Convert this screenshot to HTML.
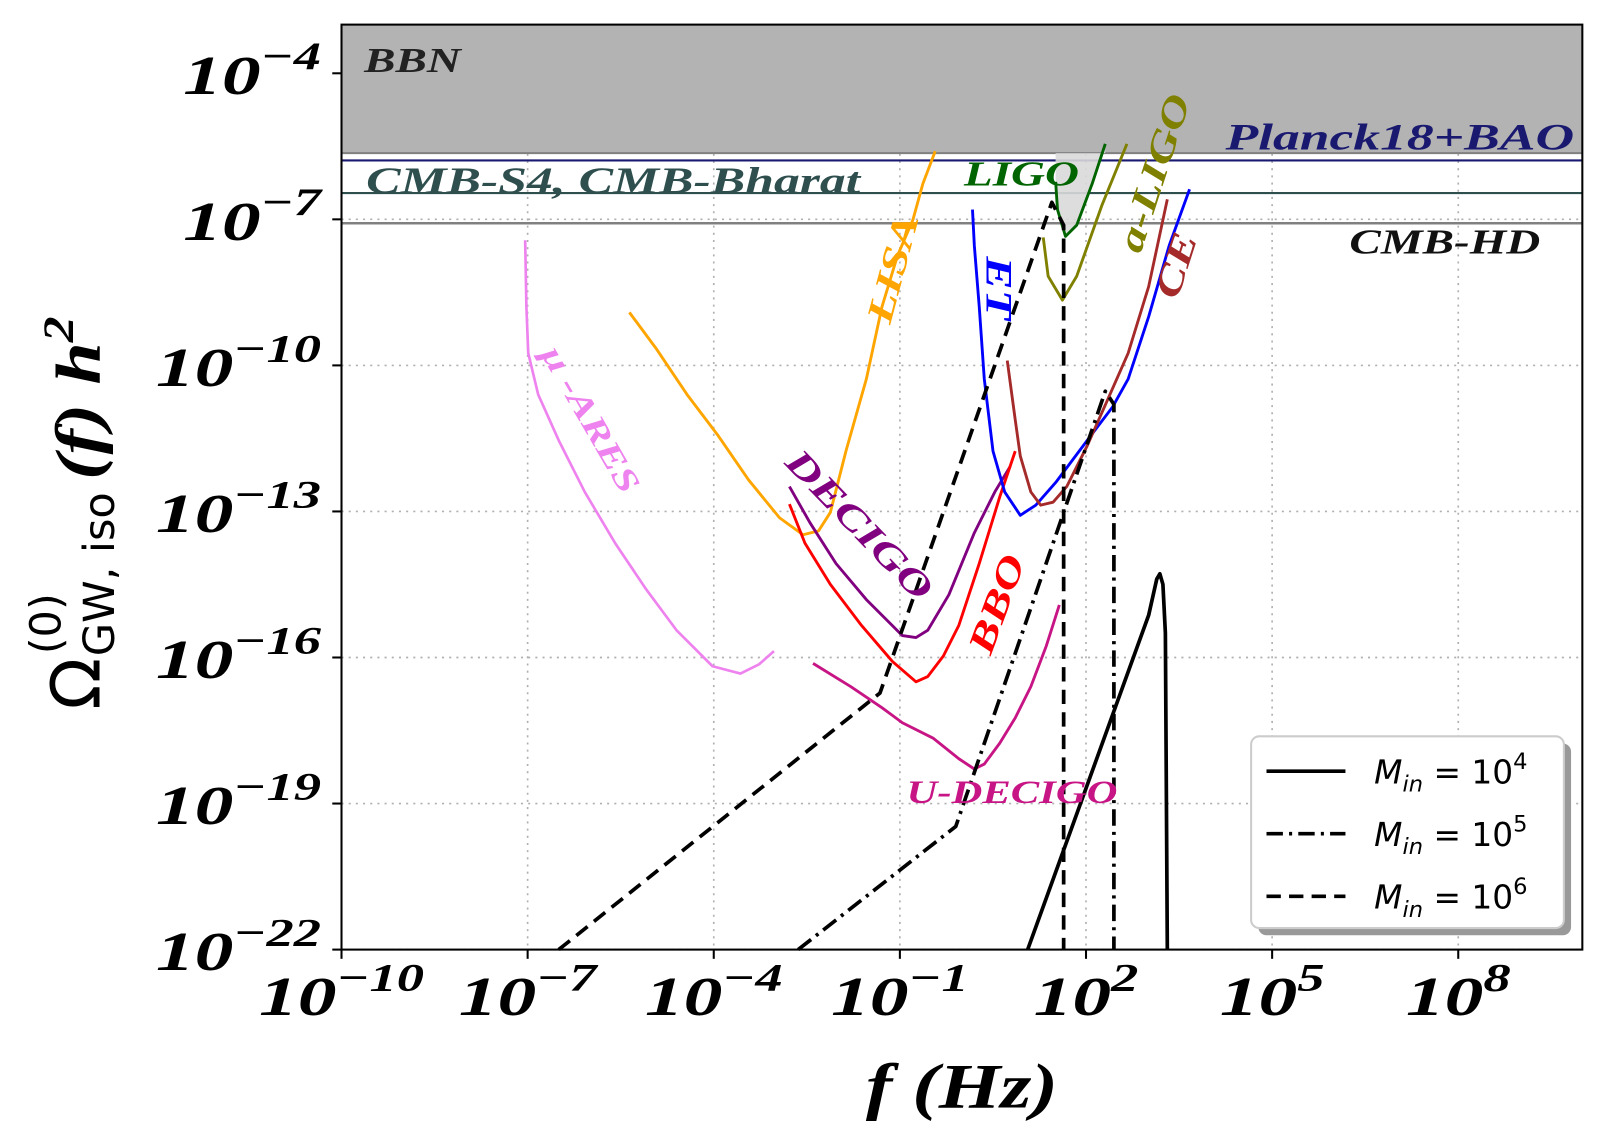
<!DOCTYPE html>
<html><head><meta charset="utf-8"><style>
html,body{margin:0;padding:0;background:#fff;}
svg{display:block;}
.tk{font-family:"Liberation Serif",serif;font-weight:bold;font-style:italic;fill:#000;}
.lab{font-family:"Liberation Serif",serif;font-weight:bold;font-style:italic;}
</style></head><body>
<svg id="chart" width="1608" height="1143" viewBox="0 0 1568 1114.6" xmlns="http://www.w3.org/2000/svg">
<g id="grid"></g>
<g id="bands"></g>
<g id="curves"></g>
<g id="labels"></g>
<g id="axes"></g>
<g id="legend"></g>
</svg>
<script>
// ---- data (log10 f, log10 Omega h^2) ----
const xTicks = [-10,-7,-4,-1,2,5,8];
const yTicks = [-22,-19,-16,-13,-10,-7,-4];
const bbnLevel = -5.64, planckLevel = -5.79, cmbS4Level = -6.46, cmbHDLevel = -7.08;
const ligoF = [1.51,1.54,1.67,1.85,2.10,2.31];
const ligoO = [-6.23,-6.80,-7.35,-7.12,-6.27,-5.45];
const aligoF = [1.31,1.39,1.62,1.85,2.26,2.66];
const aligoO = [-7.37,-8.17,-8.66,-8.17,-6.70,-5.45];
const etF = [0.17,0.20,0.28,0.36,0.50,0.69,0.94,1.19,1.52,2.02,2.43,2.68,3.01,3.34,3.67];
const etO = [-6.80,-7.54,-8.80,-10.28,-11.76,-12.60,-13.08,-12.87,-12.39,-11.54,-10.85,-10.28,-9.0,-7.54,-6.38];
const ceF = [0.73,0.86,0.94,1.11,1.27,1.47,1.69,2.02,2.35,2.68,3.01,3.31];
const ceO = [-9.90,-11.12,-11.86,-12.60,-12.87,-12.81,-12.49,-11.65,-10.70,-9.75,-8.38,-6.59];
const lisaF = [-5.36,-4.93,-4.43,-3.93,-3.44,-2.94,-2.56,-2.31,-2.12,-1.87,-1.54,-1.29,-1.04,-0.79,-0.63,-0.43];
const lisaO = [-8.91,-9.65,-10.60,-11.44,-12.35,-13.13,-13.48,-13.40,-13.02,-11.76,-10.28,-8.80,-7.75,-7.01,-6.27,-5.60];
const decigoF = [-2.78,-2.45,-2.03,-1.54,-0.96,-0.74,-0.55,-0.21,0.20,0.53,0.78];
const decigoO = [-12.49,-13.23,-14.07,-14.81,-15.55,-15.59,-15.44,-14.71,-13.44,-12.60,-12.07];
const bboF = [-2.78,-2.53,-2.12,-1.62,-1.12,-0.74,-0.55,-0.30,-0.05,0.28,0.61,0.86];
const bboO = [-12.85,-13.65,-14.50,-15.34,-16.08,-16.50,-16.39,-15.97,-15.34,-14.07,-12.70,-11.76];
const udecF = [-2.40,-1.79,-1.29,-0.96,-0.46,-0.05,0.20,0.36,0.61,0.86,1.11,1.36,1.57];
const udecO = [-16.12,-16.60,-17.03,-17.34,-17.66,-18.08,-18.29,-18.19,-17.76,-17.24,-16.60,-15.76,-14.92];
const muaresF = [-7.04,-7.02,-6.99,-6.83,-6.50,-6.08,-5.59,-5.09,-4.60,-4.02,-3.57,-3.27,-3.03];
const muaresO = [-7.43,-8.80,-9.75,-10.60,-11.54,-12.60,-13.65,-14.60,-15.44,-16.18,-16.33,-16.14,-15.87];
const m6F = [-6.50,-1.32,1.45,1.64,1.64];
const m6O = [-22,-16.73,-6.65,-7.12,-22];
const m5F = [-2.64,-0.10,2.31,2.45,2.45];
const m5O = [-22,-19.47,-10.53,-10.8,-22];
const m4F = [1.06,3.01,3.14,3.19,3.24,3.28,3.31];
const m4O = [-22,-15.13,-14.39,-14.28,-14.5,-15.5,-22];

// ---- axes ----
const L=333,R=1543,T=24,B=926;
const X = f => L + (f+10)*(R-L)/20;
const Y = o => B - (o+22)*(B-T)/19;
const NS="http://www.w3.org/2000/svg";
function mk(tag,attrs,parent){const e=document.createElementNS(NS,tag);for(const k in attrs)e.setAttribute(k,attrs[k]);parent.appendChild(e);return e;}
const G=id=>document.getElementById(id);

// grid
xTicks.forEach(t=>{const l=mk('line',{x1:X(t),x2:X(t),y1:T,y2:B,stroke:'#b0b0b0','stroke-width':1.6,'stroke-dasharray':'2,5'},G('grid'));

});
yTicks.forEach(t=>{const l=mk('line',{x1:L,x2:R,y1:Y(t),y2:Y(t),stroke:'#b0b0b0','stroke-width':1.6,'stroke-dasharray':'2,5'},G('grid'));

});

// bands
let r=mk('rect',{x:L,y:T,width:R-L,height:Y(bbnLevel)-T,fill:'#b3b3b3'},G('bands'));


let l=mk('line',{x1:L,x2:R,y1:Y(bbnLevel),y2:Y(bbnLevel),stroke:'#808080','stroke-width':2},G('bands'));


l=mk('line',{x1:L,x2:R,y1:Y(planckLevel),y2:Y(planckLevel),stroke:'#191970','stroke-width':2},G('bands'));


l=mk('line',{x1:L,x2:R,y1:Y(cmbS4Level),y2:Y(cmbS4Level),stroke:'#2f4f4f','stroke-width':2},G('bands'));


l=mk('line',{x1:L,x2:R,y1:Y(cmbHDLevel),y2:Y(cmbHDLevel),stroke:'#808080','stroke-width':2.5},G('bands'));


// LIGO shaded
let pts=ligoF.map((f,i)=>X(f)+','+Y(ligoO[i])).join(' ')+' '+X(ligoF[ligoF.length-1])+','+Y(bbnLevel)+' '+X(ligoF[0])+','+Y(bbnLevel);
let p=mk('polygon',{points:pts,fill:'#d9d9d9',opacity:0.9},G('bands'));



function curve(fs,os,color,w,dash,name){
  const d=fs.map((f,i)=>(i?'L':'M')+X(f).toFixed(1)+','+Y(os[i]).toFixed(1)).join('');
  const a={d:d,fill:'none',stroke:color,'stroke-width':w,'stroke-linejoin':'round'};
  if(dash)a['stroke-dasharray']=dash;
  const e=mk('path',a,G('curves'));
  
  
}
curve(muaresF,muaresO,'#ee82ee',2.6,null,'mu-ares-curve');
curve(lisaF,lisaO,'#ffa500',2.8,null,'lisa-curve');
curve(decigoF,decigoO,'#800080',2.8,null,'decigo-curve');
curve(bboF,bboO,'#ff0000',2.8,null,'bbo-curve');
curve(udecF,udecO,'#c71585',2.8,null,'u-decigo-curve');
curve(etF,etO,'#0000ff',2.8,null,'et-curve');
curve(ceF,ceO,'#a52a2a',2.8,null,'ce-curve');
curve(ligoF,ligoO,'#006400',2.8,null,'ligo-curve');
curve(aligoF,aligoO,'#808000',2.8,null,'a-ligo-curve');
curve(m6F,m6O,'#000',3.6,'14,8','gw-m1e6-curve');
curve(m5F,m5O,'#000',3.6,'16,6,3,6','gw-m1e5-curve');
curve(m4F,m4O,'#000',3.6,null,'gw-m1e4-curve');

// labels
function lab(txt,x,y,color,size,rot,name,anchor,sx){
  const t=mk('text',{x:0,y:0,fill:color,'font-size':size,class:'lab','text-anchor':anchor||'start',
    transform:'translate('+x+' '+y+') rotate('+(rot||0)+') scale('+(sx||1.35)+' 1)'},G('labels'));
  t.textContent=txt;
  
  
}
lab('BBN',355,70,'#222',34,0,'bbn-label');
lab('Planck18+BAO',1535,146,'#191970',36,0,'planck-label','end',1.45);
lab('CMB-S4, CMB-Bharat',357,188,'#2f4f4f',36,0,'cmb-s4-label',null,1.4);
lab('CMB-HD',1502,247,'#111',34,0,'cmb-hd-label','end');
lab('LIGO',940,181,'#006400',34,0,'ligo-label');
lab('a-LIGO',1112,248,'#808000',36,-72,'a-ligo-label');
lab('ET',962,250,'#0000ff',36,90,'et-label');
lab('CE',1148,293,'#a52a2a',36,-72,'ce-label');
lab('LISA',868,317,'#ffa500',36,-75,'lisa-label');
lab('μ -ARES',527,345,'#ee82ee',32,60,'mu-ares-label');
lab('DECIGO',764,452,'#800080',36,46,'decigo-label');
lab('BBO',966,640,'#ff0000',36,-70,'bbo-label');
lab('U-DECIGO',884,783,'#c71585',32,0,'u-decigo-label',null,1.3);

// axes
const ax=G('axes');
let fr=mk('rect',{x:L,y:T,width:R-L,height:B-T,fill:'none',stroke:'#000','stroke-width':2},ax);


xTicks.forEach(t=>{
  const k=mk('line',{x1:X(t),x2:X(t),y1:B,y2:B+9,stroke:'#000','stroke-width':2},ax);
  
  
  const tx=mk('text',{x:0,y:0,'font-size':54,class:'tk','text-anchor':'middle',transform:'translate('+X(t)+' '+(B+64)+') scale(1.4 1)'},ax);
  tx.innerHTML='10<tspan dy="-24" font-size="38">'+(t<0?'−'+(-t):t)+'</tspan>';
  
  
});
yTicks.forEach(t=>{
  const k=mk('line',{x1:L-9,x2:L,y1:Y(t),y2:Y(t),stroke:'#000','stroke-width':2},ax);
  
  
  const tx=mk('text',{x:0,y:0,'font-size':54,class:'tk','text-anchor':'end',transform:'translate('+(L-20)+' '+(Y(t)+20)+') scale(1.4 1)'},ax);
  tx.innerHTML='10<tspan dy="-24" font-size="38">'+(t<0?'−'+(-t):t)+'</tspan>';
  
  
});
let xl=mk('text',{x:0,y:0,'font-size':62,class:'tk','text-anchor':'middle',transform:'translate(938 1080) scale(1.25 1)'},ax);
xl.textContent='f (Hz)';


// y-axis title assembled in rotated frame
const yg=mk('g',{transform:'translate(97 470) rotate(-90)'},ax);


let t1=mk('text',{x:-222,y:0,'font-size':66,'font-family':'DejaVu Sans, sans-serif',fill:'#000'},yg);
t1.textContent='Ω';
let t2=mk('text',{x:-170,y:14,'font-size':42,'font-family':'DejaVu Sans, sans-serif',fill:'#000'},yg);
t2.textContent='GW, iso';
let t3=mk('text',{x:-168,y:-38,'font-size':42,'font-family':'DejaVu Sans, sans-serif',fill:'#000'},yg);
t3.textContent='(0)';
let t4=mk('text',{x:0,y:0,'font-size':62,class:'tk',transform:'translate(2 0) scale(1.2 1)'},yg);
t4.innerHTML='(f) h<tspan font-size="42" dy="-26">2</tspan>';

// legend
const lg=G('legend');
let sh=mk('rect',{x:1227,y:725,width:305,height:187,rx:8,fill:'#999'},lg);


let bx=mk('rect',{x:1220,y:718,width:305,height:187,rx:8,fill:'#fff',stroke:'#ccc','stroke-width':2},lg);


const legDash=[null,'16,6,3,6','14,8'];
const legExp=['4','5','6'];
legExp.forEach((e,i)=>{
  const y=752+i*61;
  const a={x1:1235,x2:1312,y1:y,y2:y,stroke:'#000','stroke-width':3.5};
  if(legDash[i])a['stroke-dasharray']=legDash[i];
  const ln=mk('line',a,lg);
  
  
  const t=mk('text',{x:1340,y:y+12,'font-size':32,'font-family':'DejaVu Sans, sans-serif',fill:'#000'},lg);
  t.innerHTML='<tspan font-style="italic">M</tspan><tspan font-style="italic" font-size="22" dy="8">in</tspan><tspan dy="-8"> = 10</tspan><tspan font-size="22" dy="-14">'+e+'</tspan>';
  
  
});
</script>
</body></html>
